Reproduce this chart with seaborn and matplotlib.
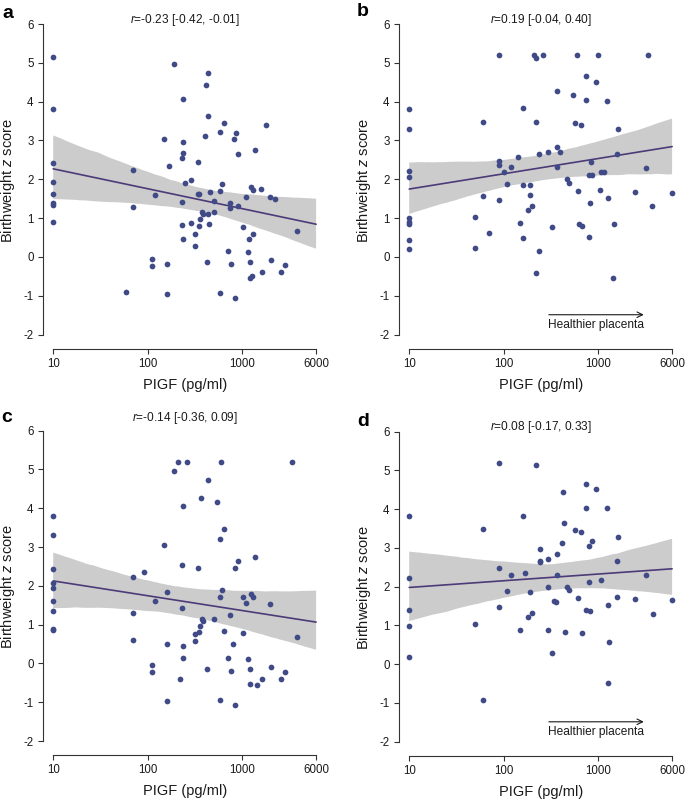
import numpy as np
import pandas as pd
import matplotlib
matplotlib.use("Agg")
import matplotlib.pyplot as plt
import matplotlib.transforms as mtransforms
from matplotlib.collections import PolyCollection
import seaborn as sns

# ---------------- data ----------------
plgf_a = [10, 10, 10, 10, 10, 10, 10, 10,
          59, 70, 70, 110, 110, 119, 150, 160, 160, 169, 189, 228, 228, 228, 238, 238, 238, 238,
          250, 288, 288, 318, 318, 339, 339, 344, 344, 360, 377, 384, 405, 416, 418, 430, 430, 430,
          443, 458, 506, 506, 581, 581, 581, 609, 640, 705, 734, 737, 758, 809, 843, 857, 900, 907,
          1025, 1103, 1157, 1186, 1190, 1216, 1246, 1270, 1290, 1300, 1350, 1577, 1615, 1766, 1932,
          1995, 2183, 2567, 2782, 3817]
bw_a = [5.14, 3.81, 2.43, 1.94, 1.62, 1.40, 1.35, 0.90,
        -0.91, 2.24, 1.29, -0.05, -0.23, 1.60, 3.04, -0.17, -0.95, 2.34, 4.97, 2.55, 1.42, 0.82, 4.06, 2.97, 2.67, 0.45,
        1.91, 1.97, 0.88, 0.59, 0.28, 2.45, 1.63, 1.61, 0.80, 0.97, 1.15, 1.10, 3.12, 4.44, -0.14, 4.73, 3.63, 1.11,
        0.84, 1.67, 1.44, 1.15, 1.70, 3.22, -0.94, 1.89, 3.46, 0.15, 1.40, 1.25, -0.18, 3.04, -1.07, 3.18, 1.32, 2.66,
        0.77, 1.55, 0.12, 0.46, -0.54, -0.14, 1.79, -0.49, 1.73, 0.58, 2.75, 1.74, -0.40, 3.41, 1.54,
        -0.09, 1.49, -0.40, -0.22, 0.68]

plgf_b = [10, 10, 10, 10, 10, 10, 10, 10, 10,
          50, 50, 60, 60, 70, 89, 89, 89, 89, 100, 109, 120, 140, 150, 159, 159, 159, 179, 188, 188,
          199, 206, 218, 218, 218, 235, 235, 258, 290, 319, 369, 369, 369, 391, 467, 490, 532, 567,
          595, 610, 625, 646, 667, 730, 730, 785, 796, 817, 838, 845, 953, 1000, 1026, 1059, 1140,
          1225, 1265, 1429, 1453, 1552, 1590, 2404, 3164, 3320, 3720, 6000]
bw_b = [3.80, 3.30, 2.21, 2.07, 1.00, 0.91, 0.86, 0.43, 0.20,
        1.04, 0.22, 3.48, 1.56, 0.61, 5.20, 2.48, 2.36, 1.47, 2.18, 1.89, 2.31, 2.58, 0.88, 3.83, 1.85, 0.49, 1.20, 1.86, 1.59,
        1.32, 5.20, 5.13, 3.48, -0.42, 2.64, 0.14, 5.20, 2.70, 0.76, 4.27, 2.83, 2.31, 2.70, 2.01, 1.90, 4.16, 3.46,
        5.20, 1.71, 0.84, 3.41, 0.80, 4.66, 4.04, 0.51, 2.12, 1.38, 2.45, 2.12, 4.51, 5.20, 1.72, 2.18, 2.19,
        4.02, 1.53, -0.55, 0.84, 2.66, 3.29, 1.67, 2.30, 5.20, 1.31, 1.65]

plgf_c = [10, 10, 10, 10, 10, 10, 10, 10, 10,
          70, 70, 70, 90, 110, 110, 119, 150, 160, 160, 160, 189, 210, 221, 228, 228, 238, 238, 238,
          259, 318, 318, 339, 348, 360, 368, 377, 386, 418, 430, 506, 539, 575, 581, 581, 594, 609,
          631, 640, 705, 737, 758, 791, 830, 843, 907, 1025, 1025, 1103, 1157, 1190, 1216, 1246,
          1290, 1350, 1420, 1615, 1932, 1995, 2567, 2782, 3357, 3817]
bw_c = [3.80, 3.30, 2.43, 2.08, 1.94, 1.61, 1.35, 0.90, 0.86,
        2.23, 1.29, 0.60, 2.36, -0.05, -0.23, 1.60, 3.04, 1.85, 0.49, -0.96, 4.97, 5.20, -0.41, 2.54, 1.42, 4.06, 0.45, 0.14,
        5.20, 0.76, 0.59, 2.45, 0.80, 0.97, 4.27, 1.15, 1.09, -0.14, 4.73, 1.15, 4.15, 1.70, 3.22, -0.94, 5.20, 1.88,
        0.83, 3.46, 0.15, 1.26, -0.19, 0.50, 2.45, -1.07, 2.65, 1.72, 0.78, 1.55, 0.12, -0.54, -0.15, 1.79,
        1.72, 2.74, -0.56, -0.39, 1.54, -0.09, -0.39, -0.23, 5.20, 0.68]

plgf_d = [10, 10, 10, 10, 10,
          50, 60, 60, 89, 89, 89, 108, 120, 150, 159, 169, 180, 190, 199, 218, 240, 240, 240,
          290, 290, 290, 319, 335, 352, 369, 369, 407, 417, 428, 438, 467, 490, 567, 610, 646, 667,
          735, 735, 735, 791, 804, 817, 857, 951, 1052, 1225, 1265, 1265, 1297, 1552, 1565, 1590,
          2404, 3164, 3750, 6000]
bw_d = [3.81, 2.21, 1.40, 0.99, 0.19,
        1.04, 3.48, -0.92, 5.20, 2.48, 1.47, 1.89, 2.30, 0.88, 3.83, 2.34, 1.21, 1.86, 1.32, 5.13, 2.96, 2.67, 2.63,
        2.71, 1.98, 0.87, 0.28, 1.62, 1.60, 2.83, 2.30, 3.12, 4.43, 3.63, 0.83, 2.00, 1.90, 3.45, 1.71, 3.40, 0.80,
        4.65, 4.04, 1.39, 2.12, 3.04, 1.37, 3.18, 4.51, 2.17, 4.02, 1.53, -0.49, 0.58, 2.66, 1.74, 3.28,
        1.67, 2.30, 1.30, 1.65]

titles = ["-0.23 [-0.42, -0.01]", "0.19 [-0.04, 0.40]", "-0.14 [-0.36, 0.09]", "0.08 [-0.17, 0.33]"]
letters = ["a", "b", "c", "d"]
x_ticks = [10, 100, 1000, 6000]
x_ticklabels = ["10", "100", "1000", "6000"]
y_ticks = [-2, -1, 0, 1, 2, 3, 4, 5, 6]
arrow_from, arrow_to = 299, 3013

# ---------------- style ----------------
sns.set_style("ticks")
plt.rcParams['font.family'] = ['Liberation Sans', 'DejaVu Sans']
plt.rcParams['mathtext.fontset'] = 'custom'
plt.rcParams['mathtext.rm'] = 'Liberation Sans'
plt.rcParams['mathtext.it'] = 'Liberation Sans:italic'
plt.rcParams['axes.unicode_minus'] = False

PT_COLOR = "#3f4a87"
LINE_COLOR = "#4d3a78"
BAND_COLOR = "#cccccc"
AX_COLOR = "#333333"
TXT = "#1a1a1a"

W, H = 685, 801
fig = plt.figure(figsize=(W / 100, H / 100), dpi=100)

# pixel geometry: (left, right, top, bottom) of each axes
geoms = [
    (42.7, 326.6, 12.4, 348.5),
    (398.7, 682.6, 12.4, 348.5),
    (42.7, 326.6, 419.0, 755.0),
    (398.7, 682.6, 420.0, 755.5),
]
title_px_above6 = [4.5, 4.5, 13.0, 5.0]
letter_pos = [(8, 13), (363, 12), (7, 417), (363, 422)]

datasets = [(plgf_a, bw_a), (plgf_b, bw_b), (plgf_c, bw_c), (plgf_d, bw_d)]
YLIM = (-2.36, 6.3)
lo, hi = np.log10(x_ticks[0]), np.log10(x_ticks[-1])
pad = 0.04 * (hi - lo)
XLIM = (lo - pad, hi + pad)

for i, ((xv, yv), (l, r, t, b)) in enumerate(zip(datasets, geoms)):
    ax = fig.add_axes([l / W, 1 - b / H, (r - l) / W, (b - t) / H])
    # x axis is log10(PlGF), labelled in pg/ml
    ax.set_xlim(lo, hi)
    ax.set_ylim(*YLIM)
    df = pd.DataFrame({"log_PlGF": np.log10(xv), "z": yv})
    sns.regplot(data=df, x="log_PlGF", y="z", truncate=False, ax=ax,
                ci=95, n_boot=2000, seed=7,
                scatter_kws=dict(s=17, color=PT_COLOR, alpha=1, linewidths=0, zorder=3),
                line_kws=dict(color=LINE_COLOR, lw=1.2, zorder=2))
    for coll in ax.collections:
        if isinstance(coll, PolyCollection):
            coll.set_facecolor(BAND_COLOR)
            coll.set_alpha(1)
            coll.set_edgecolor("none")
            coll.set_zorder(1)
    ax.set_xlim(*XLIM)
    ax.set_ylim(*YLIM)

    ax.set_xticks(np.log10(x_ticks))
    ax.set_xticklabels(x_ticklabels)
    ax.set_yticks(y_ticks)
    ax.set_yticklabels([str(v) for v in y_ticks])
    sns.despine(ax=ax)
    ax.spines["left"].set_bounds(-2, 6)
    ax.spines["bottom"].set_bounds(lo, hi)
    for s in ("left", "bottom"):
        ax.spines[s].set_color(AX_COLOR)
        ax.spines[s].set_linewidth(0.8)
    ax.tick_params(axis="both", length=3.5, width=0.8, color=AX_COLOR,
                   labelsize=8.3, labelcolor=TXT, pad=3)
    ax.set_xlabel("PIGF (pg/ml)", fontsize=10.5, color=TXT, labelpad=6)
    ax.set_ylabel("Birthweight $z$ score", fontsize=10.5, color=TXT, labelpad=4.5)
    ax.patch.set_alpha(0)

    # title inside the top of the axes
    ppu = (b - t) / (YLIM[1] - YLIM[0])
    ty = 6 + title_px_above6[i] / ppu
    trans = mtransforms.blended_transform_factory(ax.transAxes, ax.transData)
    ax.text(0.5, ty, "$r$=" + titles[i], transform=trans, ha="center", va="center",
            fontsize=8.6, color=TXT)

    # panel letter
    lx, ly = letter_pos[i]
    fig.text(lx / W, 1 - ly / H, letters[i], fontsize=14, fontweight="bold",
             ha="center", va="center", color="black")

    if i in (1, 3):
        ax.annotate("", xy=(np.log10(arrow_to), -1.49), xytext=(np.log10(arrow_from), -1.49),
                    arrowprops=dict(arrowstyle="->", lw=0.8, color=TXT,
                                    shrinkA=0, shrinkB=0))
        ax.text(np.log10(arrow_from) - 0.01, -1.75, "Healthier placenta", fontsize=8.6,
                ha="left", va="center", color=TXT)

fig.savefig("out.png", dpi=100)
